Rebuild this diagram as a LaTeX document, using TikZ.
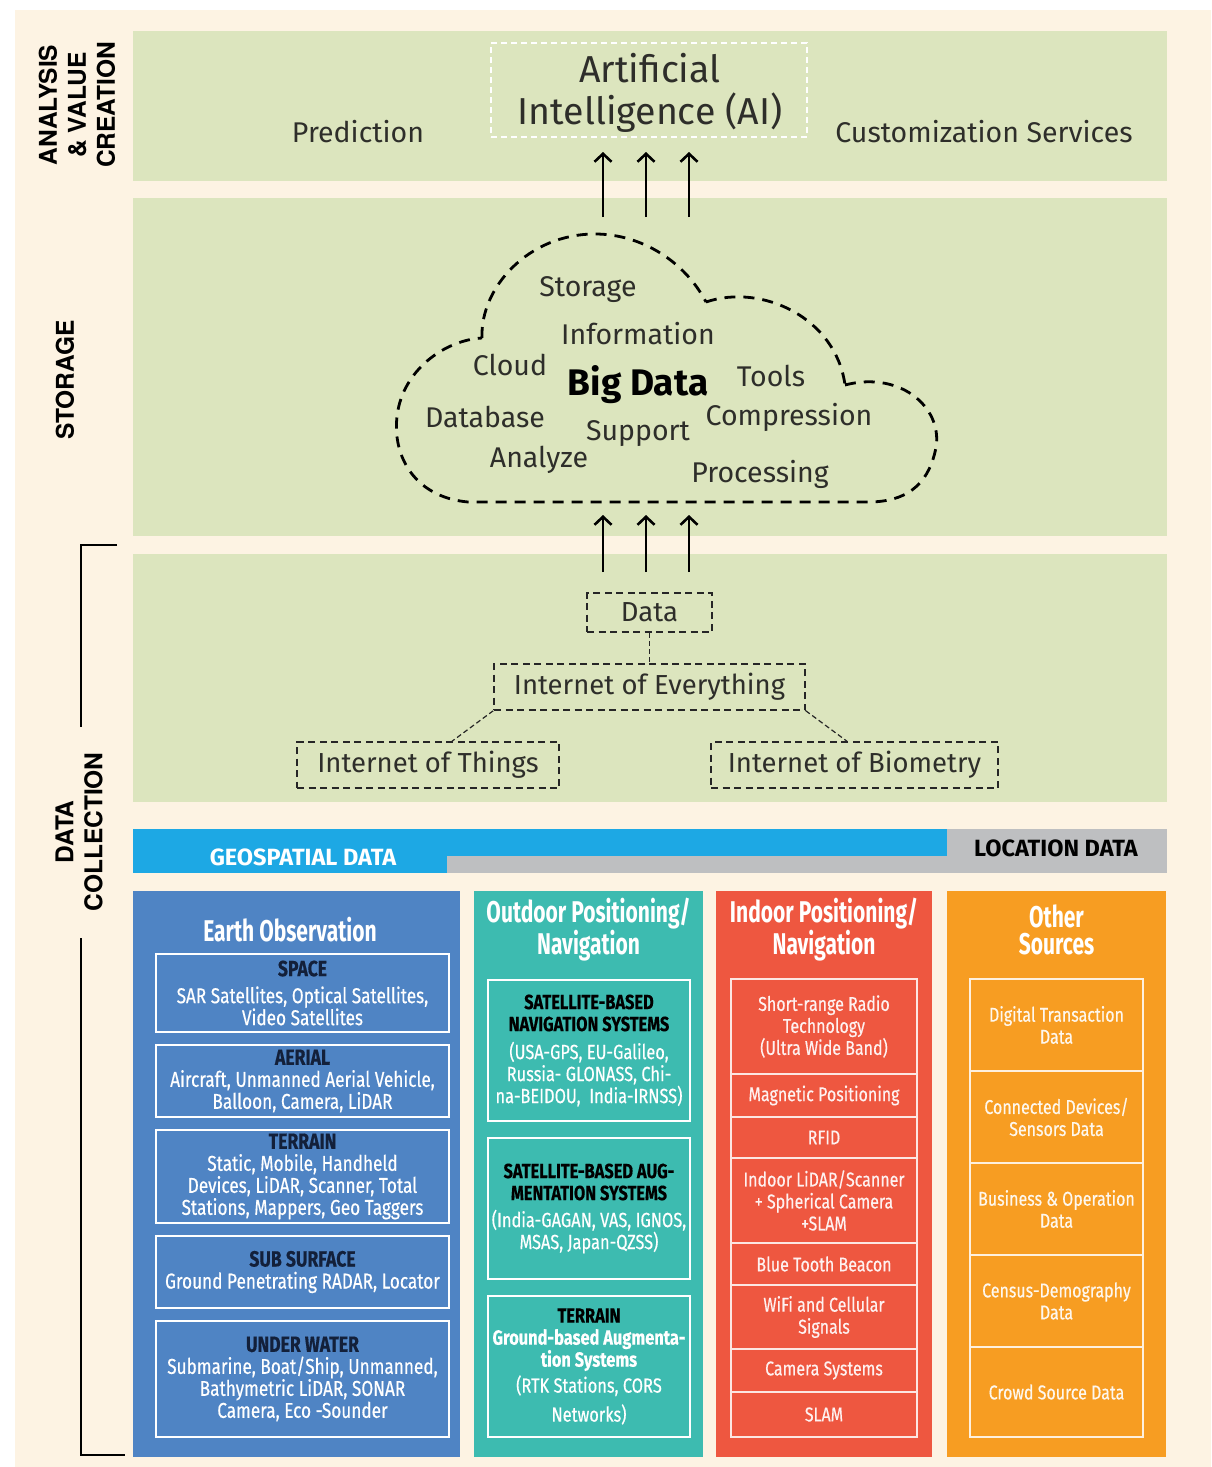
\documentclass[tikz,border=0pt]{standalone}
\usepackage{fontspec}
\setmainfont{Fira Sans}
\newfontfamily\cond[FakeStretch=0.8,FakeBold=0.4]{Fira Sans}
\newfontfamily\condt[FakeStretch=0.7]{Fira Sans}
\newfontfamily\heros{TeX Gyre Heros}
\usetikzlibrary{arrows.meta}
\definecolor{cream}{HTML}{FDF3E3}
\definecolor{bandgreen}{HTML}{DCE5BE}
\definecolor{eoblue}{HTML}{4F84C4}
\definecolor{tealc}{HTML}{3DBBB0}
\definecolor{redc}{HTML}{EE5740}
\definecolor{orangec}{HTML}{F79D22}
\definecolor{geoblue}{HTML}{1DA8E4}
\definecolor{barg}{HTML}{BEBFC1}
\definecolor{navy}{HTML}{13203A}
\definecolor{wordgray}{HTML}{2E2E2A}
\newcommand{\fsz}[2]{\fontsize{#1}{#2}\selectfont}
\newcommand{\subt}[1]{\textcolor{navy}{\bfseries\fsz{22}{22}#1}}
\newcommand{\subk}[1]{\textcolor{black}{\bfseries #1}}
\tikzset{
  sidelbl/.style={rotate=90, align=center, text=black, font=\heros\bfseries\fsz{24.5}{29}, inner sep=0pt},
  aibox/.style={draw=white, line width=1.3pt, dash pattern=on 6pt off 4pt, minimum width=316pt, minimum height=94pt},
  aitext/.style={align=center, text=wordgray, font=\fsz{37.5}{42}, inner sep=0pt},
  toptxt/.style={text=wordgray, font=\fsz{28.5}{30}, inner sep=0pt},
  cword/.style={text=wordgray, font=\fsz{28.5}{30}, inner sep=0pt},
  bigword/.style={text=black, font=\bfseries\fsz{37}{38}, inner sep=0pt},
  arr/.style={line width=2.6pt, -{Straight Barb[length=8pt,width=17pt]}},
  cloudline/.style={line width=2.8pt, dash pattern=on 11pt off 8pt, line join=round},
  dbox/.style={draw=black!85, line width=1.5pt, dash pattern=on 7pt off 4.5pt, inner sep=0pt, text=wordgray, font=\fsz{27.5}{30}},
  dconn/.style={draw=black!85, line width=1.2pt, dash pattern=on 5pt off 3pt},
  brk/.style={line width=2.5pt, black},
  geotxt/.style={font=\bfseries\fsz{23.5}{24}, inner sep=0pt},
  coltitle/.style={align=center, text=white, font=\condt\bfseries\fsz{30}{27}, inner sep=0pt},
  sub/.style={draw=white, line width=1.4pt, align=center, inner sep=0pt, text=white, font=\cond\fsz{21.5}{22}},
  tsub/.style={sub, font=\cond\fsz{20.5}{22}},
  rsub/.style={draw=white!85!redc, line width=1.3pt, align=center, inner sep=0pt, text=white!92!redc, font=\cond\fsz{20}{22}, minimum width=186pt},
  osub/.style={draw=white!85!orangec, line width=1.3pt, align=center, inner sep=0pt, text=white!92!orangec, font=\cond\fsz{20}{22}, minimum width=173pt},
}
\begin{document}
\begin{tikzpicture}[x=1pt,y=-1pt]
\useasboundingbox (0,0) rectangle (1211,1467);
\fill[white] (0,0) rectangle (1211,1467);
\fill[cream] (15,10) rectangle (1211,1467);
% bands
\fill[bandgreen] (133,31) rectangle (1167,181);
\fill[bandgreen] (133,198) rectangle (1167,536);
\fill[bandgreen] (133,554) rectangle (1167,802);
% side labels
\node[sidelbl] (lav) at (77,105) {ANALYSIS\\\& VALUE\\CREATION};
\node[sidelbl] (lst) at (65,380) {STORAGE};
\node[sidelbl] (ldc) at (79,832) {DATA\\COLLECTION};
\draw[brk] (117,545) -- (81,545) -- (81,727);
\draw[brk] (81,938) -- (81,1455) -- (125,1455);
% top band
\node[aibox] (ai) at (649,90) {};
\node[aitext] (ait) at (650,93) {Artificial\\Intelligence (AI)};
\node[toptxt] (pred) at (358,132) {Prediction};
\node[toptxt] (cust) at (984,132) {Customization Services};
\coordinate (t1s) at (603,217); \coordinate (t1e) at (603,152);
\coordinate (t2s) at (646,217); \coordinate (t2e) at (646,152);
\coordinate (t3s) at (689,217); \coordinate (t3e) at (689,152);
\draw[arr] (t1s) -- (t1e);
\draw[arr] (t2s) -- (t2e);
\draw[arr] (t3s) -- (t3e);
% cloud
\draw[cloudline] (482,338) .. controls (480,288) and (528,234) .. (595,234)
  .. controls (642,234) and (685,262) .. (706,302)
  (706,302) .. controls (762,283) and (836,318) .. (845,385)
  (845,385) .. controls (902,370) and (946,410) .. (935,452)
  .. controls (927,486) and (905,502) .. (868,502)
  -- (468,502)
  .. controls (412,497) and (390,452) .. (398,410)
  .. controls (406,368) and (446,340) .. (482,338);
\node[cword] (w1) at (588,290) {Storage};
\node[cword] (w2) at (638,334) {Information};
\node[cword] (w3) at (510,365) {Cloud};
\node[bigword] (w4) at (638,385) {Big Data};
\node[cword] (w5) at (771,376) {Tools};
\node[cword] (w6) at (485,417) {Database};
\node[cword] (w7) at (638,434) {Support};
\node[cword] (w8) at (789,417) {Compression};
\node[cword] (w9) at (539,460) {Analyze};
\node[cword] (w10) at (760,474) {Processing};
\coordinate (b1s) at (603,572); \coordinate (b1e) at (603,515);
\coordinate (b2s) at (646,572); \coordinate (b2e) at (646,515);
\coordinate (b3s) at (689,572); \coordinate (b3e) at (689,515);
\draw[arr] (b1s) -- (b1e);
\draw[arr] (b2s) -- (b2e);
\draw[arr] (b3s) -- (b3e);
% data collection tree
\node[dbox, minimum width=125pt, minimum height=39pt] (data) at (649.5,612.5) {\raisebox{-1.5pt}{Data}};
\node[dbox, minimum width=311pt, minimum height=46pt] (ioe) at (649.5,687) {\raisebox{-2.5pt}{Internet of Everything}};
\node[dbox, minimum width=262pt, minimum height=46pt] (iot) at (428,765) {\raisebox{-2.5pt}{Internet of Things}};
\node[dbox, minimum width=287pt, minimum height=46pt] (iob) at (854.5,765) {\raisebox{-2.5pt}{Internet of Biometry}};
\draw[dconn] (data.south) -- (ioe.north);
\draw[dconn] (ioe.south west) -- ([xshift=24pt]iot.north);
\draw[dconn] (ioe.south east) -- ([xshift=-7.5pt]iob.north);
% geospatial bar
\fill[geoblue] (133,829) rectangle (947,856);
\fill[geoblue] (133,856) rectangle (447,873);
\fill[barg] (447,856) rectangle (1167,873);
\fill[barg] (947,829) rectangle (1167,856);
\node[geotxt, text=white] (geo) at (303,857) {GEOSPATIAL DATA};
\node[geotxt, text=black] (loc) at (1056,848) {LOCATION DATA};
% earth observation column
\fill[eoblue] (133,891) rectangle (460,1457);
\node[coltitle] (eot) at (290,930) {Earth Observation};
\node[sub, minimum width=293pt, minimum height=78pt] (space) at (302.5,993) {\subt{SPACE}\\[5pt]SAR Satellites, Optical Satellites,\\Video Satellites};
\node[sub, minimum width=293pt, minimum height=72pt] (aerial) at (302.5,1081) {\subt{AERIAL}\\Aircraft, Unmanned Aerial Vehicle,\\Balloon, Camera, LiDAR};
\node[sub, minimum width=293pt, minimum height=93pt] (terr) at (302.5,1176.5) {\subt{TERRAIN}\\Static, Mobile, Handheld\\Devices, LiDAR, Scanner, Total\\Stations, Mappers, Geo Taggers};
\node[sub, minimum width=293pt, minimum height=72pt] (subs) at (302.5,1272) {\subt{SUB SURFACE}\\Ground Penetrating RADAR, Locator};
\node[sub, minimum width=293pt, minimum height=116pt] (uw) at (302.5,1379) {\subt{UNDER WATER}\\Submarine, Boat/Ship, Unmanned,\\Bathymetric LiDAR, SONAR\\Camera, Eco -Sounder};
% outdoor column
\fill[tealc] (474,891) rectangle (703,1457);
\node[coltitle] (odt) at (588.5,930) {Outdoor Positioning/\\Navigation};
\node[tsub, minimum width=202pt, minimum height=141pt] (sbn) at (589,1050.5) {\subk{SATELLITE-BASED}\\\subk{NAVIGATION SYSTEMS}\\[6pt](USA-GPS, EU-Galileo,\\Russia- GLONASS, Chi-\\na-BEIDOU,\ \ India-IRNSS)};
\node[tsub, minimum width=202pt, minimum height=141pt] (sba) at (589,1208.5) {\subk{SATELLITE-BASED AUG-}\\\subk{MENTATION SYSTEMS}\\[5pt](India-GAGAN, VAS, IGNOS,\\MSAS, Japan-QZSS)};
\node[tsub, minimum width=202pt, minimum height=141pt] (gba) at (589,1366.5) {\subk{TERRAIN}\\\textbf{Ground-based Augmenta-}\\\textbf{tion Systems}\\[4pt](RTK Stations, CORS\\[7pt]Networks)};
% indoor column
\fill[redc] (716,891) rectangle (932,1457);
\node[coltitle] (idt) at (824,930) {Indoor Positioning/\\Navigation};
\node[rsub, minimum height=95pt] (r1) at (824,1026.5) {Short-range Radio\\Technology\\(Ultra Wide Band)};
\node[rsub, minimum height=43pt] (r2) at (824,1095.5) {Magnetic Positioning};
\node[rsub, minimum height=41pt] (r3) at (824,1137.5) {RFID};
\node[rsub, minimum height=85pt] (r4) at (824,1200.5) {Indoor LiDAR/Scanner\\+ Spherical Camera\\+SLAM};
\node[rsub, minimum height=42pt] (r5) at (824,1264) {Blue Tooth Beacon};
\node[rsub, minimum height=64pt] (r6) at (824,1317) {WiFi and Cellular\\Signals};
\node[rsub, minimum height=43pt] (r7) at (824,1370.5) {Camera Systems};
\node[rsub, minimum height=45pt] (r8) at (824,1414.5) {SLAM};
% other sources column
\fill[orangec] (947,891) rectangle (1166,1457);
\node[coltitle] (ost) at (1056.5,930) {Other\\Sources};
\node[osub, minimum height=92pt] (o1) at (1056.5,1025) {Digital Transaction\\Data};
\node[osub, minimum height=92pt] (o2) at (1056.5,1117) {Connected Devices/\\Sensors Data};
\node[osub, minimum height=92pt] (o3) at (1056.5,1209) {Business \& Operation\\Data};
\node[osub, minimum height=92pt] (o4) at (1056.5,1301) {Census-Demography\\Data};
\node[osub, minimum height=90pt] (o5) at (1056.5,1392) {Crowd Source Data};
\end{tikzpicture}
\end{document}
